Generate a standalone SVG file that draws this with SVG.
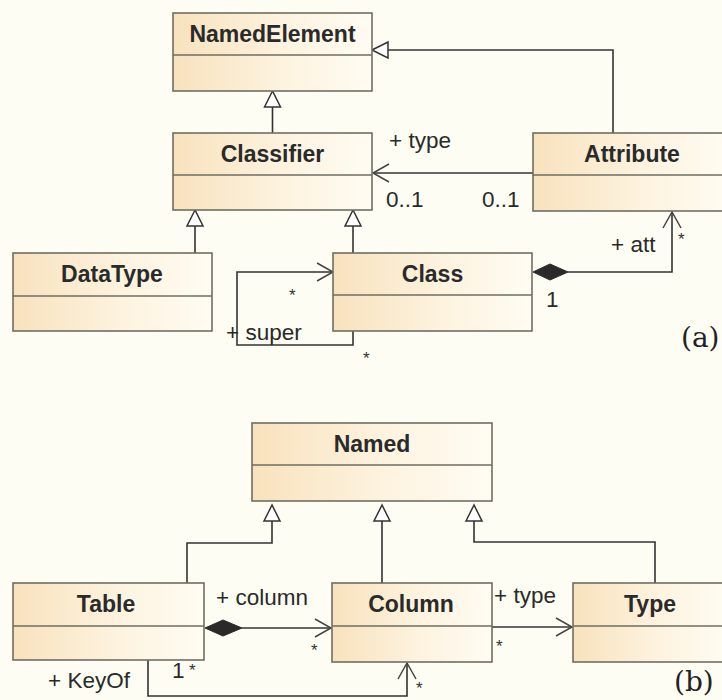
<svg xmlns="http://www.w3.org/2000/svg" width="722" height="700" viewBox="0 0 722 700">
<defs>
<linearGradient id="fillg" x1="0" y1="0" x2="1" y2="0">
<stop offset="0" stop-color="#f8e2bd"/>
<stop offset="0.55" stop-color="#fdf3df"/>
<stop offset="1" stop-color="#fffcf3"/>
</linearGradient>
<style>
.box{fill:url(#fillg);stroke:#6e6e62;stroke-width:1.6}
.div{stroke:#6e6e62;stroke-width:1.6;fill:none}
.title{font-family:"Liberation Sans",Arial,sans-serif;font-weight:bold;font-size:23px;fill:#2a2a2a;text-anchor:middle}
.lbl{font-family:"Liberation Sans",Arial,sans-serif;font-size:22.5px;fill:#2a2a2a}
.star{font-family:"Liberation Sans",Arial,sans-serif;font-size:17px;fill:#333}
.cap{font-family:"DejaVu Serif","Liberation Serif",serif;font-size:28px;fill:#222}
.ln{fill:none;stroke:#333;stroke-width:1.6}
.tri{fill:#ffffff;stroke:#333;stroke-width:1.5}
.arr{fill:none;stroke:#444;stroke-width:1.5}
.dia{fill:#2a2a2a;stroke:#2a2a2a;stroke-width:1}
</style>
</defs>
<rect x="0" y="0" width="722" height="700" fill="#fdfdf3"/>

<g id="connectors">
<path class="ln" d="M272.5,133 V107"/>
<polygon class="tri" points="272.5,91 264.5,107 280.5,107"/>
<path class="ln" d="M613,133 V50 H388"/>
<polygon class="tri" points="372,50 388,42 388,58"/>
<path class="ln" d="M195,253 V226"/>
<polygon class="tri" points="195,210 187,226 203,226"/>
<path class="ln" d="M353,253 V226"/>
<polygon class="tri" points="353,210 345,226 361,226"/>
<path class="ln" d="M533,173 H373"/>
<path class="arr" d="M389,164 L373,173 L389,182"/>
<path class="ln" d="M353,331 V345 H237 V272 H333"/>
<path class="arr" d="M317,263 L333,272 L317,281"/>
<polygon class="dia" points="533,272 550,264 568,272 550,280"/>
<path class="ln" d="M568,272 H672 V212"/>
<path class="arr" d="M663,228 L672,212 L681,228"/>

<path class="ln" d="M187,583 V543 H272 V521"/>
<polygon class="tri" points="272,505 264,521 280,521"/>
<path class="ln" d="M382,583 V521"/>
<polygon class="tri" points="382,505 374,521 390,521"/>
<path class="ln" d="M655,583 V542 H474 V521"/>
<polygon class="tri" points="474,505 466,521 482,521"/>
<polygon class="dia" points="205,628 223,620 242,628 223,636"/>
<path class="ln" d="M242,628 H331"/>
<path class="arr" d="M315,619 L331,628 L315,637"/>
<path class="ln" d="M492,627 H572"/>
<path class="arr" d="M556,618 L572,627 L556,636"/>
<path class="ln" d="M148,660 V696 H407 V663"/>
<path class="arr" d="M398,679 L407,663 L416,679"/>
</g>

<g id="NamedElement">
<rect class="box" x="173" y="13" width="199" height="78"/>
<line class="div" x1="173" y1="55" x2="372" y2="55"/>
<text class="title" x="272.5" y="42">NamedElement</text>
</g>
<g id="Classifier">
<rect class="box" x="173" y="133" width="199" height="77"/>
<line class="div" x1="173" y1="175" x2="372" y2="175"/>
<text class="title" x="272.5" y="162">Classifier</text>
</g>
<g id="Attribute">
<rect class="box" x="533" y="133" width="199" height="78"/>
<line class="div" x1="533" y1="175" x2="732" y2="175"/>
<text class="title" x="632" y="162">Attribute</text>
</g>
<g id="DataType">
<rect class="box" x="13" y="253" width="199" height="78"/>
<line class="div" x1="13" y1="296" x2="212" y2="296"/>
<text class="title" x="112" y="282">DataType</text>
</g>
<g id="Class">
<rect class="box" x="333" y="253" width="199" height="78"/>
<line class="div" x1="333" y1="295" x2="532" y2="295"/>
<text class="title" x="432.5" y="282">Class</text>
</g>

<g id="Named">
<rect class="box" x="252" y="423" width="240" height="78"/>
<line class="div" x1="252" y1="465" x2="492" y2="465"/>
<text class="title" x="372" y="452">Named</text>
</g>
<g id="Table">
<rect class="box" x="13" y="583" width="191" height="77"/>
<line class="div" x1="13" y1="626" x2="204" y2="626"/>
<text class="title" x="106" y="612">Table</text>
</g>
<g id="Column">
<rect class="box" x="332" y="583" width="160" height="79"/>
<line class="div" x1="332" y1="626" x2="492" y2="626"/>
<text class="title" x="411" y="612">Column</text>
</g>
<g id="Type">
<rect class="box" x="573" y="583" width="155" height="79"/>
<line class="div" x1="573" y1="626" x2="728" y2="626"/>
<text class="title" x="650" y="612">Type</text>
</g>

<g id="labels">
<text class="lbl" x="389" y="148">+ type</text>
<text class="lbl" x="386" y="207">0..1</text>
<text class="lbl" x="482" y="207">0..1</text>
<text class="lbl" x="611" y="252">+ att</text>
<text class="star" x="678" y="245">*</text>
<text class="lbl" x="546" y="307">1</text>
<text class="star" x="289" y="301">*</text>
<text class="lbl" x="226" y="340">+ super</text>
<text class="star" x="363" y="364">*</text>
<text class="cap" x="681" y="347">(a)</text>

<text class="lbl" x="216" y="605">+ column</text>
<text class="star" x="311" y="656">*</text>
<text class="lbl" x="494" y="603">+ type</text>
<text class="star" x="496" y="652">*</text>
<text class="lbl" x="48" y="688">+ KeyOf</text>
<text class="lbl" x="172" y="678">1</text>
<text class="star" x="189" y="676">*</text>
<text class="star" x="416" y="694">*</text>
<text class="cap" x="674" y="691">(b)</text>
</g>
</svg>
